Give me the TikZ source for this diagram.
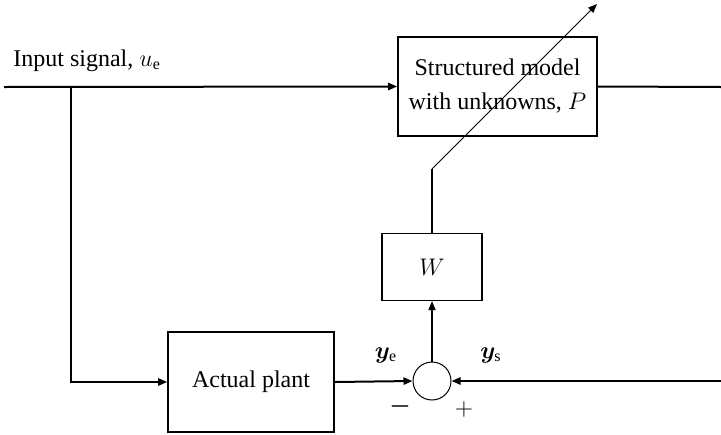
\documentclass[tikz,border=0pt]{standalone}
\usepackage{fontspec}
\setmainfont{Liberation Serif}
\usepackage{bm}
\usetikzlibrary{arrows.meta}
\tikzset{
  sig/.style={line width=1pt},
  boxline/.style={draw,line width=0.8pt,inner sep=0pt},
  tip/.style={-{Triangle[length=4.5pt,width=3.6pt]}},
  lbl/.style={inner sep=0pt},
}
\begin{document}
\begin{tikzpicture}[x=0.5pt,y=-0.5pt,font=\fontsize{12}{17}\selectfont]
\useasboundingbox (0,0) rectangle (721,434);
% blocks
\node[boxline,minimum width=99.5pt,minimum height=49.5pt,align=center] (model) at (497.5,86.5) {Structured model\\with unknowns, $P$};
\node[boxline,line width=0.65pt,minimum width=50pt,minimum height=33.5pt] (W) at (432,267) {$W$};
\node[boxline,minimum width=83pt,minimum height=50pt] (plant) at (251,382) {Actual plant};
\node[draw,circle,line width=0.5pt,minimum size=19pt,inner sep=0pt] (sum) at (432,381) {};
% coordinates
\coordinate (in) at (4,87);
\coordinate (branch) at (71,87);
\coordinate (out) at (721,87);
\coordinate (rin) at (721,381);
\coordinate (bend) at (432,169);
\coordinate (arrtip) at (597,4);
% labels
\node[lbl,anchor=base west] (inlbl) at (13,66) {Input signal, $u_\mathrm{e}$};
\node[lbl] (ye) at (386,355) {$\bm{y}_\mathrm{e}$};
\node[lbl] (ys) at (491,355) {$\bm{y}_\mathrm{s}$};
\node[lbl] (minus) at (400,406) {$\bm{-}$};
\node[lbl] (plus) at (464,409) {$+$};
% connectors
\draw[sig,tip] (in) -- (model.west);
\draw[sig] (model.east) -- (out);
\draw[sig,tip] (branch) |- (plant.west);
\draw[sig,tip] (plant.east) -- (sum.west);
\draw[sig,tip] (rin) -- (sum.east);
\draw[line width=0.65pt,tip] (sum.north) -- (W.south);
\draw[line width=0.6pt] (W.north) -- (bend);
\draw[line width=0.5pt,tip] (bend) -- (arrtip);
\end{tikzpicture}
\end{document}
